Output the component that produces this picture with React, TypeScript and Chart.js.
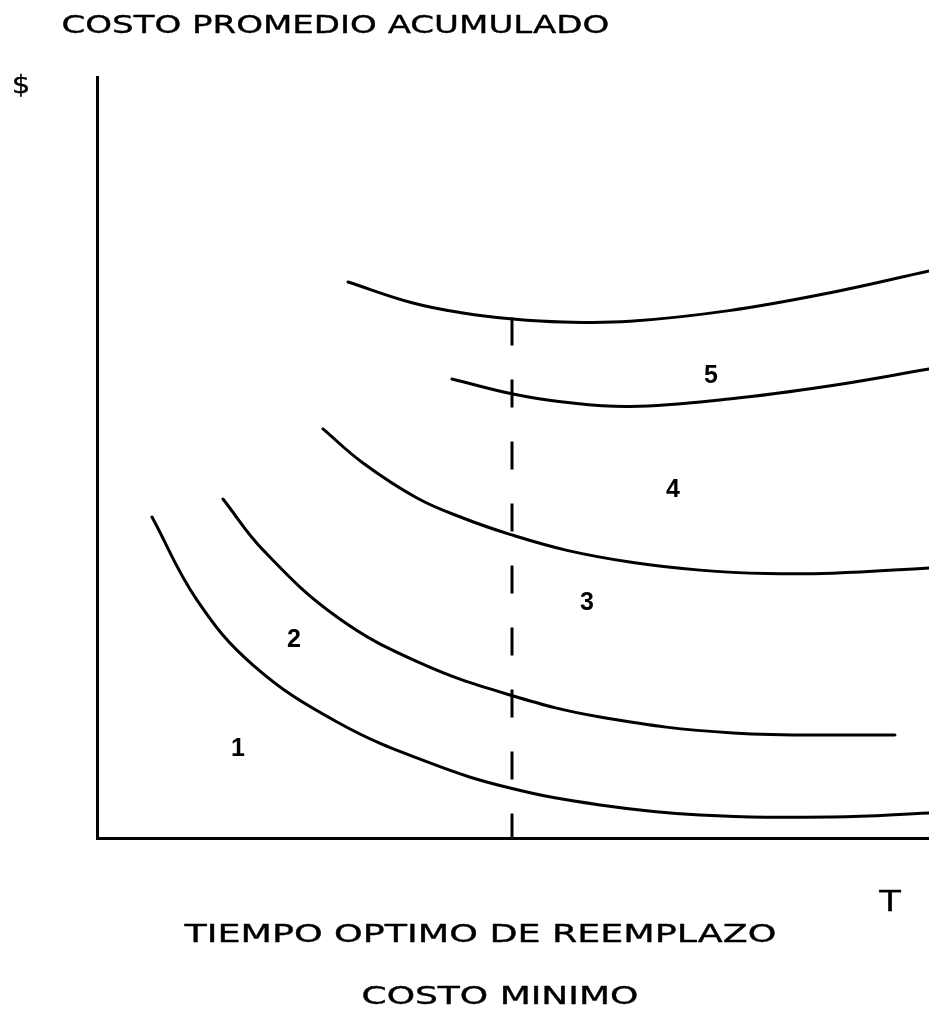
import React, { useEffect, useRef } from "react";
import { Chart, registerables } from "chart.js";

Chart.register(...registerables);

// ---- data (T = time, C = cumulative average cost) ----
const curve1T = [0.661, 1.202, 1.875, 2.885, 4.002, 4.964, 6.046, 7.248, 8.846, 10.0];
const curve1C = [4.218, 3.127, 2.273, 1.524, 0.986, 0.657, 0.434, 0.302, 0.276, 0.329];

const curve2T = [1.514, 2.0, 2.885, 3.882, 4.964, 6.046, 7.644, 9.591];
const curve2C = [4.455, 3.78, 2.904, 2.3, 1.879, 1.59, 1.38, 1.353];

const curve3T = [2.716, 3.197, 3.846, 4.399, 4.964, 5.649, 6.442, 7.248, 8.053, 8.846, 10.0];
const curve3C = [5.375, 4.928, 4.468, 4.205, 3.99, 3.78, 3.62, 3.52, 3.475, 3.48, 3.548];

const curve4T = [4.267, 5.0, 5.601, 6.406, 7.596, 8.798, 10.0];
const curve4C = [6.032, 5.834, 5.729, 5.67, 5.769, 5.94, 6.163];

const curve5T = [3.017, 3.798, 4.399, 5.0, 5.601, 6.406, 7.596, 8.798, 10.0];
const curve5C = [7.306, 7.03, 6.899, 6.82, 6.781, 6.79, 6.93, 7.162, 7.451];

const optimumT = [4.988, 4.988];
const optimumC = [6.84, 0];

const regionLabels = ["1", "2", "3", "4", "5"];
const regionLabelT = [1.695, 2.368, 5.889, 6.923, 7.38];
const regionLabelC = [1.183, 2.615, 3.101, 4.586, 6.084];

const titleText = "COSTO PROMEDIO ACUMULADO";
const yAxisText = "$";
const xAxisText = "T";
const optimumText = "TIEMPO OPTIMO DE REEMPLAZO";
const minCostText = "COSTO MINIMO";

const toPoints = (xs: number[], ys: number[]) => xs.map((x, i) => ({ x, y: ys[i] }));

// ---- text layout (pixels) ----
type TextSpec = { text: string; left: number; right: number; cy: number; size: number };
const pageTexts: TextSpec[] = [
  { text: titleText, left: 63, right: 608, cy: 24, size: 24 },
  { text: yAxisText, left: 14, right: 28, cy: 85, size: 25 },
  { text: xAxisText, left: 878, right: 902, cy: 900, size: 28 },
  { text: optimumText, left: 183, right: 775, cy: 933, size: 24 },
  { text: minCostText, left: 363, right: 637, cy: 995, size: 24 },
];

const textFont = '"DejaVu Sans", sans-serif';

const drawFitted = (ctx: CanvasRenderingContext2D, t: TextSpec) => {
  ctx.save();
  ctx.font = `${t.size}px ${textFont}`;
  ctx.textBaseline = "alphabetic";
  ctx.textAlign = "left";
  const m = ctx.measureText(t.text);
  const w = m.actualBoundingBoxLeft + m.actualBoundingBoxRight;
  const target = t.right - t.left;
  const sx = w > 0 ? target / w : 1;
  const base = t.cy + (m.actualBoundingBoxAscent - m.actualBoundingBoxDescent) / 2;
  ctx.translate(t.left, base);
  ctx.scale(sx, 1);
  ctx.fillStyle = "#000";
  ctx.strokeStyle = "#000";
  ctx.lineWidth = 0.35;
  ctx.lineJoin = "round";
  ctx.fillText(t.text, m.actualBoundingBoxLeft, 0);
  ctx.strokeText(t.text, m.actualBoundingBoxLeft, 0);
  ctx.restore();
};

const annotationPlugin = {
  id: "annotations",
  afterDatasetsDraw(chart: any) {
    const ctx: CanvasRenderingContext2D = chart.ctx;
    const xs = chart.scales.x;
    const ys = chart.scales.y;
    ctx.save();
    ctx.font = 'bold 25px "Liberation Sans", sans-serif';
    ctx.fillStyle = "#000";
    ctx.textAlign = "center";
    ctx.textBaseline = "middle";
    regionLabels.forEach((lab, i) => {
      ctx.fillText(lab, xs.getPixelForValue(regionLabelT[i]), ys.getPixelForValue(regionLabelC[i]) + 1);
    });
    ctx.restore();
  },
  afterDraw(chart: any) {
    const ctx: CanvasRenderingContext2D = chart.ctx;
    pageTexts.forEach((t) => drawFitted(ctx, t));
  },
};

export default function App() {
  const ref = useRef<HTMLCanvasElement | null>(null);

  useEffect(() => {
    if (!ref.current) return;
    const curveStyle = {
      borderColor: "#000",
      borderWidth: 3,
      pointRadius: 0,
      fill: false,
      tension: 0.4,
      borderCapStyle: "round" as const,
    };
    const chart = new Chart(ref.current, {
      type: "line",
      data: {
        datasets: [
          { label: "1", data: toPoints(curve1T, curve1C), ...curveStyle },
          { label: "2", data: toPoints(curve2T, curve2C), ...curveStyle },
          { label: "3", data: toPoints(curve3T, curve3C), ...curveStyle },
          { label: "4", data: toPoints(curve4T, curve4C), ...curveStyle },
          { label: "5", data: toPoints(curve5T, curve5C), ...curveStyle },
          {
            label: "optimo",
            data: toPoints(optimumT, optimumC),
            borderColor: "#000",
            borderWidth: 3,
            pointRadius: 0,
            borderDash: [28, 34],
            fill: false,
          },
        ],
      },
      options: {
        animation: false,
        responsive: false,
        devicePixelRatio: 1,
        layout: { padding: { left: 97, top: 77, right: 0, bottom: 189 } },
        plugins: { legend: { display: false }, title: { display: false }, tooltip: { enabled: false } },
        events: [],
        scales: {
          x: {
            type: "linear",
            min: 0,
            max: 10,
            grid: { display: false, drawTicks: false },
            ticks: { display: false },
            border: { display: true, color: "#000", width: 3 },
          },
          y: {
            type: "linear",
            min: 0,
            max: 10,
            grid: { display: false, drawTicks: false },
            ticks: { display: false },
            border: { display: true, color: "#000", width: 3 },
          },
        },
      },
      plugins: [annotationPlugin],
    });
    return () => chart.destroy();
  }, []);

  return (
    <div style={{ position: "fixed", left: 0, top: 0, width: 929, height: 1027, background: "#fff" }}>
      <canvas ref={ref} width={929} height={1027} style={{ width: 929, height: 1027, display: "block" }} />
    </div>
  );
}
